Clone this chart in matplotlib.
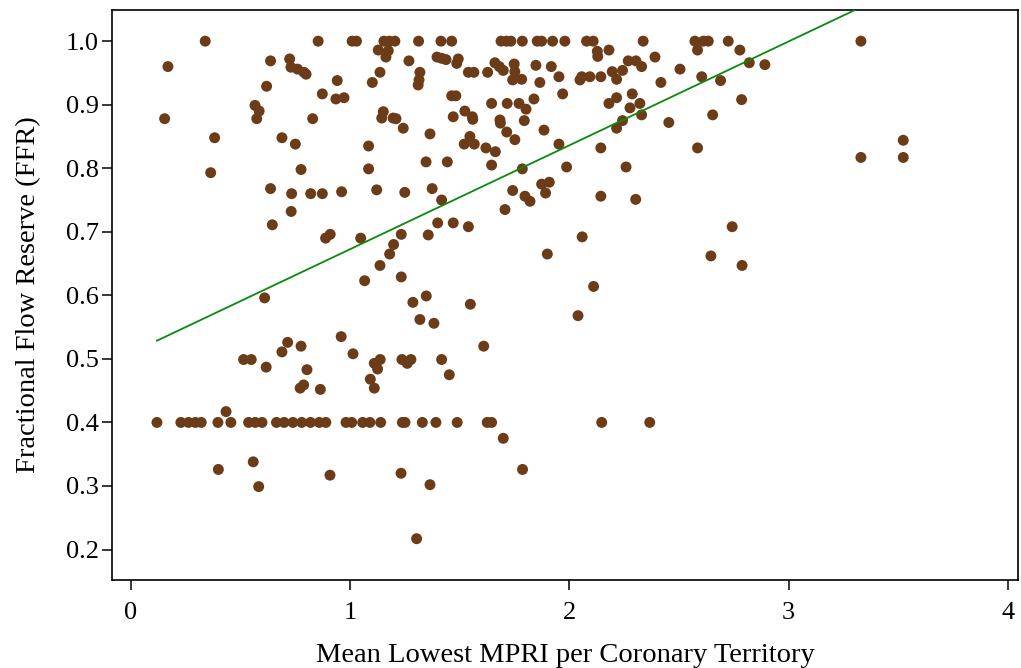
import matplotlib
matplotlib.use("Agg")
import matplotlib.pyplot as plt
import numpy as np

# mean lowest MPRI per territory (x) and FFR (y)
mpri = [
    0.34, 0.17, 0.855, 1.01, 1.03, 0.638, 0.725, 0.731, 0.761, 0.79, 0.80, 0.942,
    0.62, 0.874, 0.936, 0.973, 0.567, 0.586, 0.575, 0.155, 0.83, 0.383, 0.69, 0.751,
    0.365, 0.777, 0.638, 0.734, 0.821, 0.874, 0.962,
    1.155, 1.18, 1.205, 1.313, 1.415, 1.464, 1.689, 1.714, 1.734, 1.786, 1.854, 1.874,
    1.924, 1.98, 1.129, 1.175, 1.164, 1.269, 1.137, 1.102, 1.319, 1.315, 1.311, 1.397,
    1.418, 1.438, 1.487, 1.494, 1.54, 1.565, 1.628, 1.661, 1.681, 1.699, 1.749, 1.752,
    1.742, 1.783, 1.848, 1.918, 1.953, 1.866, 2.049, 1.97, 1.464, 1.483, 1.646, 1.717,
    1.771, 1.803, 1.839, 1.152, 1.145, 1.197, 1.21, 1.243, 1.471, 1.524, 1.558, 1.56,
    1.684, 1.686, 1.795, 1.715, 1.752, 1.885, 1.365, 1.085, 1.521, 1.547, 1.567, 1.62,
    1.663, 1.953, 1.085, 1.347, 1.444, 1.646, 1.786, 1.988, 1.122, 1.25, 1.375, 1.418,
    1.742, 1.798, 1.821, 1.874, 1.909, 1.892,
    2.079, 2.109, 2.337, 2.573, 2.611, 2.634, 2.725, 2.128, 2.13, 2.181, 2.585, 2.778,
    2.391, 2.269, 2.304, 2.33, 2.505, 2.821, 2.892, 2.057, 2.094, 2.144, 2.196, 2.216,
    2.243, 2.418, 2.604, 2.69, 2.216, 2.181, 2.287, 2.322, 2.277, 2.33, 2.243, 2.216,
    2.454, 2.654, 2.786, 2.144, 2.585, 2.259, 2.144, 2.303,
    3.33, 3.523, 3.33, 3.523,
    0.732, 0.646, 0.889, 0.91, 1.049, 1.234, 1.199, 1.181, 1.137, 1.067, 1.234, 0.611,
    1.287, 1.319, 0.716, 0.777, 0.69, 0.96, 1.014, 0.515, 0.55, 0.618, 0.804, 1.111,
    1.138, 1.126, 1.237, 1.261, 1.278, 1.093, 1.111, 0.789, 0.773, 0.865,
    1.707, 1.40, 1.471, 1.54, 1.357, 2.059, 1.9, 2.111, 1.348, 1.549, 1.383, 2.04,
    1.61, 1.418, 1.453, 2.646, 2.743, 2.788, 0.435,
    0.12, 0.229, 0.264, 0.295, 0.322, 0.398, 0.457, 0.538, 0.568, 0.599, 0.665, 0.70,
    0.74, 0.78, 0.82, 0.86, 0.89, 0.982, 1.008, 1.058, 1.091, 1.14, 1.239, 1.251,
    1.33, 1.392, 1.489, 1.626, 1.646, 2.148, 2.367,
    0.559, 0.40, 0.584, 1.699, 0.909, 1.233, 1.365, 1.787, 1.304,
]
ffr = [
    1.00, 0.96, 1.00, 1.00, 1.00, 0.969, 0.972, 0.959, 0.956, 0.951, 0.948, 0.938,
    0.929, 0.917, 0.909, 0.911, 0.899, 0.89, 0.878, 0.878, 0.878, 0.848, 0.848, 0.838,
    0.793, 0.798, 0.768, 0.76, 0.76, 0.76, 0.763,
    1.00, 1.00, 1.00, 1.00, 1.00, 1.00, 1.00, 1.00, 1.00, 1.00, 1.00, 1.00,
    1.00, 1.00, 0.986, 0.985, 0.975, 0.969, 0.951, 0.935, 0.951, 0.939, 0.931, 0.975,
    0.973, 0.971, 0.965, 0.972, 0.951, 0.951, 0.951, 0.966, 0.96, 0.954, 0.964, 0.952,
    0.939, 0.94, 0.962, 0.96, 0.944, 0.935, 0.939, 0.917, 0.914, 0.914, 0.902, 0.902,
    0.902, 0.893, 0.909, 0.889, 0.879, 0.879, 0.878, 0.863, 0.881, 0.89, 0.881, 0.877,
    0.876, 0.871, 0.875, 0.857, 0.845, 0.86, 0.854, 0.835, 0.838, 0.85, 0.838, 0.832,
    0.826, 0.838, 0.799, 0.81, 0.81, 0.805, 0.799, 0.802, 0.766, 0.762, 0.768, 0.75,
    0.765, 0.756, 0.748, 0.775, 0.778, 0.761,
    1.00, 1.00, 1.00, 1.00, 1.00, 1.00, 1.00, 0.984, 0.976, 0.986, 0.986, 0.986,
    0.975, 0.969, 0.969, 0.96, 0.956, 0.966, 0.963, 0.944, 0.944, 0.944, 0.952, 0.94,
    0.954, 0.935, 0.944, 0.938, 0.911, 0.902, 0.917, 0.902, 0.895, 0.884, 0.875, 0.863,
    0.872, 0.884, 0.908, 0.832, 0.832, 0.802, 0.756, 0.751,
    1.00, 0.844, 0.817, 0.817,
    0.732, 0.711, 0.69, 0.696, 0.69, 0.696, 0.68, 0.665, 0.647, 0.623, 0.629, 0.596,
    0.589, 0.562, 0.526, 0.52, 0.511, 0.535, 0.508, 0.499, 0.499, 0.487, 0.483, 0.493,
    0.499, 0.484, 0.499, 0.493, 0.499, 0.468, 0.454, 0.459, 0.454, 0.452,
    0.735, 0.714, 0.714, 0.708, 0.695, 0.692, 0.665, 0.614, 0.599, 0.586, 0.556, 0.568,
    0.52, 0.499, 0.475, 0.662, 0.708, 0.647, 0.417,
    0.40, 0.40, 0.40, 0.40, 0.40, 0.40, 0.40, 0.40, 0.40, 0.40, 0.40, 0.40,
    0.40, 0.40, 0.40, 0.40, 0.40, 0.40, 0.40, 0.40, 0.40, 0.40, 0.40, 0.40,
    0.40, 0.40, 0.40, 0.40, 0.40, 0.40, 0.40,
    0.338, 0.326, 0.299, 0.375, 0.317, 0.32, 0.302, 0.326, 0.217,
]

# fitted line as drawn in the original
fit_intercept = 0.509
fit_slope = 0.1635

xticks = [0, 1, 2, 3, 4]
yticks = [0.2, 0.3, 0.4, 0.5, 0.6, 0.7, 0.8, 0.9, 1.0]

plt.rcParams['font.family'] = ['Liberation Serif', 'DejaVu Serif']

fig = plt.figure(figsize=(10.21, 6.68), dpi=100)
ax = fig.add_axes([0.1097, 0.1317, 0.8873, 0.8533])

ax.scatter(mpri, ffr, s=62, color='#6b3c17', edgecolors='none', zorder=2)

xl = np.array([min(mpri), max(mpri)])
ax.plot(xl, fit_intercept + fit_slope * xl, color='#0a8a0a', lw=1.3, zorder=3)

ax.set_xlim(-0.085, 4.046)
ax.set_ylim(0.152, 1.049)
ax.set_xticks(xticks)
ax.set_xticklabels([str(v) for v in xticks])
ax.set_yticks(yticks)
ax.set_yticklabels(['%.1f' % v for v in yticks])

for sp in ax.spines.values():
    sp.set_linewidth(1.2)
ax.tick_params(direction='out', length=7.5, width=1.1, labelsize=19)
ax.tick_params(axis='x', pad=8)
ax.tick_params(axis='y', pad=2)

ax.set_xlabel('Mean Lowest MPRI per Coronary Territory', fontsize=20.5, labelpad=14)
ax.set_ylabel('Fractional Flow Reserve (FFR)', fontsize=20.5, labelpad=18)

fig.savefig('out.png', dpi=100)
